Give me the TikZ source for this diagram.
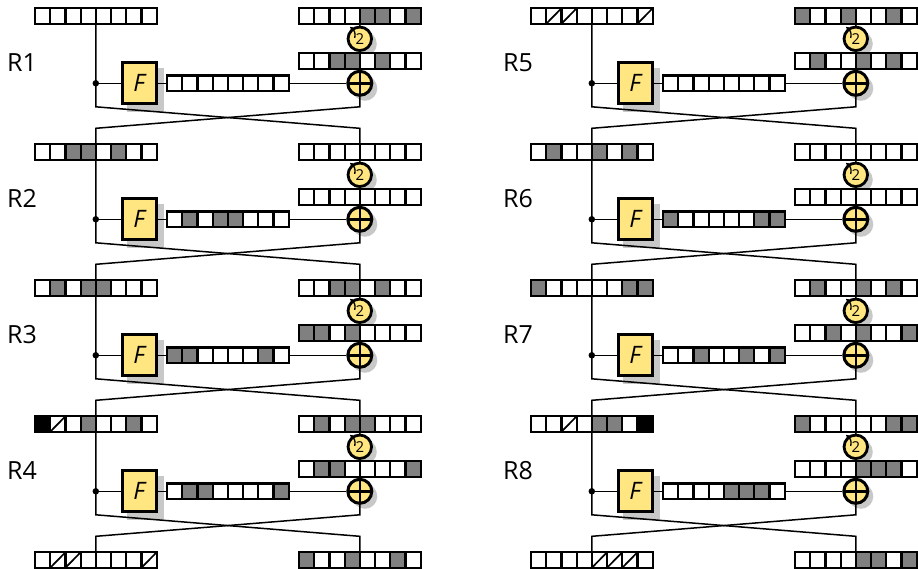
\documentclass[tikz,border=0pt]{standalone}
\usepackage{fontspec}
\setmainfont{Open Sans}
\usetikzlibrary{arrows.meta}
\definecolor{fyel}{RGB}{255,230,128}
\definecolor{cgray}{RGB}{128,128,128}
\definecolor{shad}{RGB}{200,200,200}
\pgfdeclarelayer{shadow}
\pgfdeclarelayer{wires}
\pgfsetlayers{shadow,wires,main}

\newcommand{\reg}[4]{%
  \node[regbox] (#1) at (#2+60.8, #3+7.75) {};
  \foreach \c [count=\i from 0] in {#4} {
    \path[bitcell\c] (#2+\i*15.2, #3) rectangle ++(15.2, 15.5);
  }%
}

\newcommand{\rnd}[8]{%
  \node[lab] (lab#1) at (#2+7, #3+54) {#4};
  \reg{L#1}{#2+35}{#3}{#5}
  \reg{T#1}{#2+299}{#3}{#6}
  \node[rotc] (rot#1) at (#2+359.8, #3+30.5) {2};
  \draw[line width=1.3, -{Stealth[length=3.5pt,width=3.5pt]}]
    ([shift={(-5,-1)}]rot#1.center) .. controls ([shift={(-4,-7)}]rot#1.center) and ([shift={(-6,-9)}]rot#1.center) .. ([shift={(-10,-12)}]rot#1.center);
  \reg{M#1}{#2+299}{#3+45}{#7}
  \node[dotn] (d#1) at (#2+95.8, #3+75) {};
  \node[fbox] (F#1) at (#2+139, #3+75) {F};
  \reg{O#1}{#2+167}{#3+67.25}{#8}
  \node[xorc] (x#1) at (#2+359.8, #3+75) {};
  \coordinate (a#1) at (#2+95.8, #3+98.5);
  \coordinate (b#1) at (#2+359.8, #3+98.5);
  \coordinate (c#1) at (#2+95.8, #3+120);
  \coordinate (e#1) at (#2+359.8, #3+120);
  \coordinate (nl#1) at (#2+95.8, #3+136);
  \coordinate (nr#1) at (#2+359.8, #3+136);
  \begin{pgfonlayer}{shadow}
    \fill[shad] ([shift={(6,7)}]F#1.south west) rectangle ([shift={(6,7)}]F#1.north east);
    \fill[shad] ([shift={(5,5)}]rot#1.center) circle[radius=12pt];
    \fill[shad] ([shift={(5,5)}]x#1.center) circle[radius=12.5pt];
  \end{pgfonlayer}
  \begin{pgfonlayer}{wires}
    \draw[wire] (L#1.south) -- (a#1) -- (e#1) -- (nr#1);
    \draw[wire] (T#1.south) -- (b#1) -- (c#1) -- (nl#1);
    \draw[wire] (d#1) -- (F#1) -- (O#1) -- (x#1);
  \end{pgfonlayer}
}

\begin{document}
\begin{tikzpicture}[x=1pt,y=-1pt,
  bitcellw/.style={draw, line width=2.2, fill=white},
  bitcellg/.style={draw, line width=2.2, fill=cgray},
  bitcellb/.style={draw, line width=2.2, fill=black},
  bitcells/.style={draw, line width=2.2, fill=white,
    path picture={\draw[line width=1.7] (path picture bounding box.south west) -- (path picture bounding box.north east);}},
  regbox/.style={rectangle, minimum width=121.6, minimum height=15.5, inner sep=0},
  wire/.style={line width=1.5},
  lab/.style={anchor=west, inner sep=0, font=\fontsize{25}{25}\selectfont},
  rotc/.style={circle, draw, line width=2.8, fill=fyel, minimum size=23.5, inner sep=0, font=\fontsize{15}{15}\selectfont},
  xorc/.style={circle, draw, line width=3, fill=fyel, minimum size=24, inner sep=0,
    path picture={\draw[line width=2.6] (path picture bounding box.north) -- (path picture bounding box.south) (path picture bounding box.west) -- (path picture bounding box.east);}},
  fbox/.style={rectangle, draw, line width=3, fill=fyel, minimum width=34, minimum height=41, inner sep=0, font=\itshape\fontsize{24}{24}\selectfont},
  dotn/.style={circle, fill, minimum size=6.5, inner sep=0},
]
\useasboundingbox (0,0) rectangle (918,568);

\rnd{1}{0}{8.3}{R1}{w,w,w,w,w,w,w,w}{w,w,w,w,g,g,w,g}{w,w,g,g,w,g,w,w}{w,w,w,w,w,w,w,w}
\rnd{2}{0}{144.3}{R2}{w,w,g,g,w,g,w,w}{w,w,w,w,w,w,w,w}{w,w,w,w,w,w,w,w}{w,g,w,g,g,w,w,w}
\rnd{3}{0}{280.3}{R3}{w,g,w,g,g,w,w,w}{w,w,g,g,w,g,w,w}{g,g,w,g,w,w,w,w}{g,g,w,w,w,w,g,w}
\rnd{4}{0}{416.3}{R4}{b,s,w,g,w,w,g,w}{w,g,w,g,g,w,w,w}{w,g,g,w,w,w,w,g}{w,g,g,w,w,w,w,g}
\reg{BL1}{35}{552.3}{w,s,s,w,w,w,w,s}
\reg{BR1}{299}{552.3}{g,w,w,g,w,w,g,w}

\rnd{5}{496}{8.3}{R5}{w,s,s,w,w,w,w,s}{g,w,w,g,w,w,g,w}{w,g,w,w,g,w,g,w}{w,w,w,w,w,w,w,w}
\rnd{6}{496}{144.3}{R6}{w,g,w,w,g,w,g,w}{w,w,w,w,w,w,w,w}{w,w,w,w,w,w,w,w}{g,w,w,w,w,w,g,g}
\rnd{7}{496}{280.3}{R7}{g,w,w,w,w,w,g,g}{w,g,w,w,g,w,g,w}{w,w,g,w,g,w,w,g}{w,w,g,w,w,g,w,g}
\rnd{8}{496}{416.3}{R8}{w,w,s,w,g,g,w,b}{g,w,w,w,w,w,g,g}{w,w,w,w,g,g,g,w}{w,w,w,w,g,g,g,w}
\reg{BL2}{531}{552.3}{w,w,w,w,s,s,s,w}
\reg{BR2}{795}{552.3}{w,w,w,w,g,g,w,g}
\end{tikzpicture}
\end{document}
